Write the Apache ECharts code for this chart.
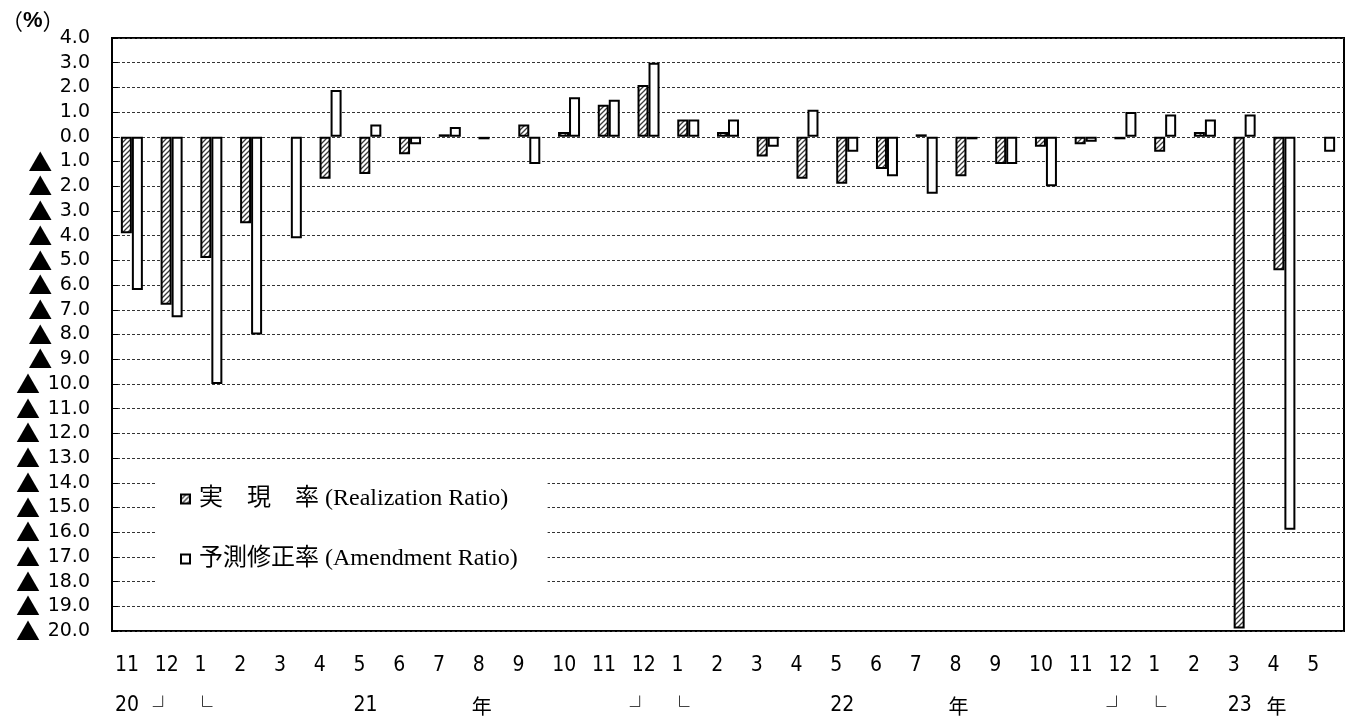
<!DOCTYPE html>
<html>
<head>
<meta charset="utf-8">
<script src="https://cdn.jsdelivr.net/npm/echarts@6/dist/echarts.min.js"></script>
<style>
html,body{margin:0;padding:0;background:#fff;overflow:hidden;}
#c{width:1351px;height:720px;}
</style>
</head>
<body>
<div id="c"></div>
<script>
// Categories (months, Nov 2020 – May 2023)
const monthLabels = ['11','12','1','2','3','4','5','6','7','8','9','10','11','12','1','2','3','4','5','6','7','8','9','10','11','12','1','2','3','4','5'];
const yearLabels  = ['20','┘','└','','','','21','','','年','','','','┘','└','','','','22','','','年','','','','┘','└','','23','年',''];
// 実現率 (Realization Ratio)
const realization = [-3.9,-6.8,-4.9,-3.5,null,-1.7,-1.5,-0.7,0.1,-0.1,0.5,0.2,1.3,2.1,0.7,0.2,-0.8,-1.7,-1.9,-1.3,0.1,-1.6,-1.1,-0.4,-0.3,-0.1,-0.6,0.2,-19.9,-5.4,null];
// 予測修正率 (Amendment Ratio)
const amendment = [-6.2,-7.3,-10.0,-8.0,-4.1,1.9,0.5,-0.3,0.4,null,-1.1,1.6,1.5,3.0,0.7,0.7,-0.4,1.1,-0.6,-1.6,-2.3,-0.1,-1.1,-2.0,-0.2,1.0,0.9,0.7,0.9,-15.9,-0.6];
const seriesNames = ['実　現　率 (Realization Ratio)','予測修正率 (Amendment Ratio)'];

// hatch pattern
const pc = document.createElement('canvas');
pc.width = 5; pc.height = 5;
const g = pc.getContext('2d');
g.fillStyle = '#fff'; g.fillRect(0,0,5,5);
g.strokeStyle = '#3a3a3a'; g.lineWidth = 1.3;
g.beginPath();
g.moveTo(-1,6); g.lineTo(6,-1);
g.moveTo(-1,1); g.lineTo(1,-1);
g.moveTo(4,6); g.lineTo(6,4);
g.stroke();

const chart = echarts.init(document.getElementById('c'), null, {renderer:'canvas'});
const axisCats = monthLabels.map((m,i)=>i);
const labelCats = monthLabels.concat(['']);

chart.setOption({
  animation:false,
  backgroundColor:'#fff',
  grid:{left:112,right:7,top:38,bottom:89,show:true,borderColor:'#000',borderWidth:2,backgroundColor:'transparent',outerBoundsMode:'none',containLabel:false},
  graphic:[{type:'text',left:1,top:10,style:{
    text:'{p|（}{q|%}{p|）}',
    rich:{p:{fontFamily:'"Noto Sans CJK JP"',fontSize:22,fill:'#000'},q:{fontFamily:'"Liberation Sans"',fontWeight:'bold',fontSize:22,fill:'#000'}}
  }}],
  legend:{
    orient:'vertical',left:155,top:468,
    backgroundColor:'#fff',
    padding:[19,30,25,25],
    itemGap:36,itemWidth:9,itemHeight:9,
    icon:'rect',
    textStyle:{fontFamily:'"Liberation Serif","Noto Sans CJK JP"',fontSize:24,color:'#000',padding:[0,0,0,4]},
    data:seriesNames
  },
  xAxis:[
    {type:'category',data:axisCats,axisLine:{show:false},axisTick:{show:false},axisLabel:{show:false},splitLine:{show:false}},
    {type:'category',data:labelCats,boundaryGap:false,position:'bottom',
     axisLine:{show:false},axisTick:{show:false},splitLine:{show:false},
     axisLabel:{interval:0,align:'left',margin:15,hideOverlap:false,
       formatter:(v,i)=>{
         if(i>=monthLabels.length) return '';
         const y = yearLabels[i]||'';
         const m = monthLabels[i]||'';
         let yr;
         if(y==='┘'||y==='└') yr='{b|'+y+'}';
         else if(y==='年') yr='{k|'+y+'}';
         else if(y==='') yr='{y| }';
         else yr='{y|'+y+'}';
         return '{m|'+m+'}\n'+yr;
       },
       rich:{
         m:{fontFamily:'"Liberation Sans Narrow","DejaVu Sans Condensed",sans-serif',fontSize:21,lineHeight:40,color:'#000',padding:[0,0,0,3]},
         y:{fontFamily:'"Liberation Sans Narrow","DejaVu Sans Condensed",sans-serif',fontSize:21,lineHeight:40,color:'#000',padding:[0,0,0,3]},
         k:{fontFamily:'"Noto Sans CJK JP"',fontSize:20,lineHeight:40,color:'#000',padding:[0,0,0,2]},
         b:{fontFamily:'"Noto Sans CJK JP"',fontSize:20,lineHeight:40,color:'#000',padding:[0,0,0,1]}
       }
     }}
  ],
  yAxis:{
    type:'value',min:-20,max:4,interval:1,
    axisLine:{show:false},
    axisTick:{show:true,inside:true,length:6,lineStyle:{color:'#000',width:1}},
    splitLine:{show:true,lineStyle:{color:'#333',type:[3,2],width:1}},
    axisLabel:{margin:22,showMinLabel:true,showMaxLabel:true,hideOverlap:false,
      formatter:v=>{
        if(v<0) return '{t|▲}{s| }{n|'+Math.abs(v).toFixed(1)+'}';
        return '{n|'+v.toFixed(1)+'}';
      },
      rich:{
        t:{fontFamily:'"Noto Sans CJK JP"',fontSize:24,color:'#000'},
        s:{fontFamily:'"DejaVu Sans"',fontSize:24,color:'#000'},
        n:{fontFamily:'"DejaVu Sans"',fontSize:19,color:'#000'}
      }
    }
  },
  series:[
    {name:seriesNames[0],type:'bar',xAxisIndex:0,data:realization,barWidth:11,barGap:'0%',
     itemStyle:{color:{image:pc,repeat:'repeat'},borderColor:'#000',borderWidth:2}},
    {name:seriesNames[1],type:'bar',xAxisIndex:0,data:amendment,barWidth:11,barGap:'0%',
     itemStyle:{color:'#fff',borderColor:'#000',borderWidth:2}}
  ]
});
</script>
</body>
</html>
